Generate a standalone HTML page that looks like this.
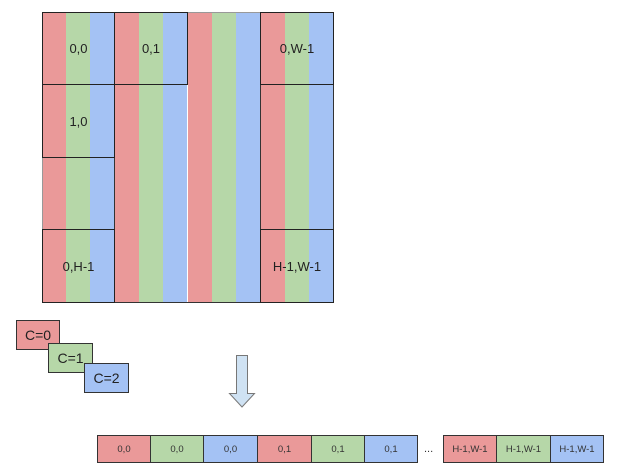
<!DOCTYPE html>
<html><head><style>
body{margin:0;width:619px;height:475px;background:#fff;position:relative;font-family:"Liberation Sans",sans-serif;overflow:hidden}
div{position:absolute;box-sizing:border-box}
.s{top:12px;height:290px;width:25px}
.r{background:#ea9999}.g{background:#b6d7a8}.b{background:#a4c2f4}
.bx{border:1px solid #222;display:flex;align-items:center;justify-content:center;font-size:13px;color:#222}
.c{border:1px solid #333;display:flex;align-items:center;justify-content:center;font-size:14px;color:#222}
.f{top:435px;height:28px;border:1px solid #333;display:flex;align-items:center;justify-content:center;font-size:9.5px;color:#333}
</style></head><body>
<div class="s r" style="left:42px"></div><div class="s g" style="left:66px"></div><div class="s b" style="left:90px"></div>
<div class="s r" style="left:115px"></div><div class="s g" style="left:139px"></div><div class="s b" style="left:163px;width:24px"></div>
<div class="s r" style="left:188px"></div><div class="s g" style="left:212px"></div><div class="s b" style="left:236px"></div>
<div class="s r" style="left:260px"></div><div class="s g" style="left:285px"></div><div class="s b" style="left:309px"></div>
<div style="left:187px;top:84px;width:1px;height:218px;background:#fff"></div>
<div style="left:42px;top:12px;width:292px;height:291px;border:1px solid #333;border-left-color:#999;border-top-color:#999"></div>
<div style="left:114px;top:12px;width:1px;height:290px;background:#333"></div>
<div style="left:260px;top:12px;width:1px;height:290px;background:#333"></div>
<div class="bx" style="left:42px;top:12px;width:73px;height:73px">0,0</div>
<div class="bx" style="left:114px;top:12px;width:74px;height:73px">0,1</div>
<div class="bx" style="left:260px;top:12px;width:74px;height:73px">0,W-1</div>
<div class="bx" style="left:42px;top:84px;width:73px;height:74px">1,0</div>
<div class="bx" style="left:42px;top:229px;width:73px;height:74px">0,H-1</div>
<div class="bx" style="left:260px;top:229px;width:74px;height:74px">H-1,W-1</div>
<div class="c r" style="left:16px;top:320px;width:44px;height:30px">C=0</div>
<div class="c g" style="left:48px;top:343px;width:45px;height:30px">C=1</div>
<div class="c b" style="left:84px;top:363px;width:45px;height:30px">C=2</div>
<svg style="position:absolute;left:226px;top:353px" width="32" height="58"><path d="M10.5 2.5H21.5V40.5H28.5L16 54L3.5 40.5H10.5Z" fill="#cfe2f3" stroke="#777" stroke-width="1"/></svg>
<div class="f r" style="left:97px;width:54px">0,0</div>
<div class="f g" style="left:150px;width:54px">0,0</div>
<div class="f b" style="left:203px;width:55px">0,0</div>
<div class="f r" style="left:257px;width:55px">0,1</div>
<div class="f g" style="left:311px;width:54px">0,1</div>
<div class="f b" style="left:364px;width:54px">0,1</div>
<div style="left:424px;top:443px;font-size:11px;color:#333">...</div>
<div class="f r" style="left:443px;width:54px">H-1,W-1</div>
<div class="f g" style="left:496px;width:55px">H-1,W-1</div>
<div class="f b" style="left:550px;width:54px">H-1,W-1</div>
</body></html>
